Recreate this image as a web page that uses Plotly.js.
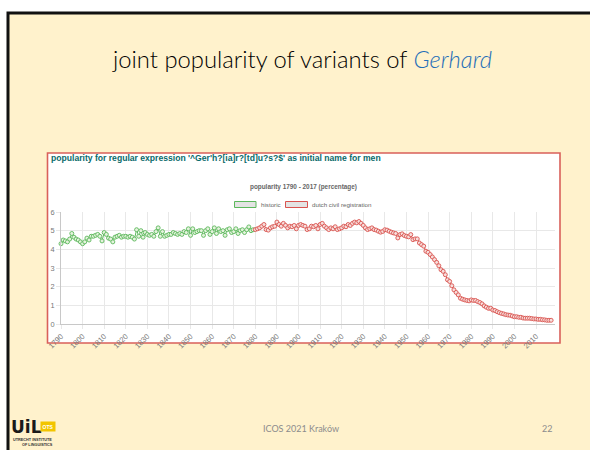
<!DOCTYPE html>
<html>
<head>
<meta charset="utf-8">
<script src="https://cdn.plot.ly/plotly-3.0.1.min.js"></script>
<style>
html,body{margin:0;padding:0;background:#fff;}
#chart{width:590px;height:450px;}
</style>
</head>
<body>
<div id="chart"></div>
<script>
// ---- data ----
const historicStart = 1790;
const historicValues = [
  4.30, 4.50, 4.45, 4.40, 4.55, 4.85, 4.65, 4.55, 4.50, 4.40,
  4.30, 4.40, 4.60, 4.50, 4.70, 4.70, 4.75, 4.80, 4.70, 4.45,
  4.90, 4.80, 4.60, 4.55, 4.40, 4.65, 4.70, 4.75, 4.65, 4.70,
  4.70, 4.65, 4.70, 4.65, 4.55, 5.05, 4.70, 5.00, 4.65, 4.90,
  4.80, 4.75, 4.80, 4.70, 4.95, 5.15, 4.70, 4.95, 4.70, 4.75,
  4.80, 4.80, 4.90, 4.85, 4.80, 4.85, 4.80, 4.95, 4.90, 5.10,
  4.75, 5.10, 4.90, 4.95, 5.00, 5.00, 4.75, 5.00, 5.10, 4.80,
  4.95, 5.15, 4.85, 5.10, 4.95, 5.00, 4.75, 5.05, 5.10, 4.90,
  4.95, 5.10, 4.85, 5.00, 5.05, 4.90, 5.05, 5.20, 5.00, 5.05
];
const civilStart = 1880;
const civilValues = [
  5.06, 5.10, 5.15, 5.24, 5.33, 5.06, 5.03, 5.15, 5.21, 5.24,
  5.46, 5.33, 5.24, 5.39, 5.28, 5.15, 5.24, 5.21, 5.28, 5.10,
  5.28, 5.33, 5.28, 5.24, 5.06, 5.10, 5.24, 5.21, 5.28, 5.10,
  5.33, 5.39, 5.24, 5.15, 5.06, 5.15, 5.10, 5.21, 5.06, 5.10,
  5.15, 5.24, 5.21, 5.33, 5.28, 5.39, 5.46, 5.42, 5.49, 5.39,
  5.28, 5.15, 5.06, 5.10, 5.15, 5.06, 5.03, 4.97, 4.92, 4.96,
  5.05, 5.03, 4.97, 4.92, 4.88, 4.85, 4.61, 4.79, 4.83, 4.74,
  4.70, 4.67, 4.79, 4.52, 4.56, 4.56, 4.34, 4.25, 4.17, 3.90,
  3.84, 3.72, 3.59, 3.45, 3.30, 3.12, 2.91, 2.82, 2.64, 2.37,
  2.28, 2.05, 1.83, 1.69, 1.56, 1.38, 1.33, 1.29, 1.26, 1.24,
  1.29, 1.26, 1.26, 1.20, 1.15, 1.08, 0.97, 0.90, 0.84, 0.84,
  0.75, 0.72, 0.66, 0.61, 0.57, 0.54, 0.50, 0.48, 0.47, 0.43,
  0.39, 0.39, 0.36, 0.36, 0.32, 0.31, 0.31, 0.31, 0.29, 0.27,
  0.27, 0.25, 0.25, 0.23, 0.22, 0.20, 0.20, 0.20
];
const xTickLabels = [1790,1800,1810,1820,1830,1840,1850,1860,1870,1880,1890,1900,1910,1920,1930,1940,1950,1960,1970,1980,1990,2000,2010];
const yTickLabels = [0,1,2,3,4,5,6];
const seriesNames = ["historic", "dutch civil registration"];

const historicYears = historicValues.map((_, i) => historicStart + i);
const civilYears = civilValues.map((_, i) => civilStart + i);

// ---- layout helpers (pixel -> paper) ----
const L = 61, R = 555, T = 212, B = 324;
const W = R - L, H = B - T;
const px = p => (p - L) / W;
const py = p => (B - p) / H;

const green = 'rgb(92,184,92)';
const red = 'rgb(217,83,79)';

const traces = [
  {
    x: historicYears, y: historicValues, name: seriesNames[0],
    type: 'scatter', mode: 'lines+markers', cliponaxis: false,
    line: {color: green, width: 1},
    marker: {size: 4, color: 'rgba(228,243,220,1)', line: {color: green, width: 0.9}}
  },
  {
    x: civilYears, y: civilValues, name: seriesNames[1],
    type: 'scatter', mode: 'lines+markers', cliponaxis: false,
    line: {color: red, width: 1},
    marker: {size: 4, color: 'rgba(247,222,220,1)', line: {color: red, width: 0.9}}
  }
];

const shapes = [
  // slide
  {type:'rect', xref:'paper', yref:'paper', layer:'below',
   x0: px(8), x1: px(600), y0: py(13), y1: py(470),
   fillcolor:'#FFF2CC', line:{color:'#111', width:3}},
  // chart box
  {type:'rect', xref:'paper', yref:'paper', layer:'below',
   x0: px(47.5), x1: px(560), y0: py(153), y1: py(343),
   fillcolor:'#ffffff', line:{color:'#d9605a', width:1.6}},
  // legend boxes
  {type:'rect', xref:'paper', yref:'paper',
   x0: px(234.5), x1: px(256), y0: py(201.5), y1: py(207.5),
   fillcolor:'#e3e3e3', line:{color: green, width:1}},
  {type:'rect', xref:'paper', yref:'paper',
   x0: px(285.5), x1: px(307.5), y0: py(201.5), y1: py(207.5),
   fillcolor:'#e3e3e3', line:{color: red, width:1}}
];

const ann = (text, x, y, opts) => Object.assign({
  text, xref:'paper', yref:'paper', x: px(x), y: py(y),
  showarrow:false, xanchor:'center', yanchor:'middle'
}, opts);

const annotations = [
  ann('joint popularity of variants of <i><span style="color:#1F6FB8">Gerhard</span></i>', 302, 59,
      {font:{family:'Lato, "Open Sans", sans-serif', size:23.8, weight:300, color:'#000000'}}),
  ann("<b>popularity for regular expression '^Ger'h?[ia]r?[td]u?s?$' as initial name for men</b>", 48.5, 157.5,
      {xanchor:'left', font:{family:'"Liberation Sans", Arial, sans-serif', size:8.6, color:'#0a6a6a'}}),
  ann('<b>popularity 1790 - 2017 (percentage)</b>', 303.5, 187,
      {font:{family:'"Liberation Sans", Arial, sans-serif', size:6.4, color:'#666'}}),
  ann(seriesNames[0], 259, 204.5,
      {xanchor:'left', font:{family:'"Liberation Sans", Arial, sans-serif', size:6.2, color:'#666'}}),
  ann(seriesNames[1], 310, 204.5,
      {xanchor:'left', font:{family:'"Liberation Sans", Arial, sans-serif', size:6.2, color:'#666'}}),
  ann('ICOS 2021 Kraków', 301, 428,
      {font:{family:'Lato, "Open Sans", sans-serif', size:9, color:'#8c8c8c'}}),
  ann('22', 547, 428,
      {font:{family:'Lato, "Open Sans", sans-serif', size:9, color:'#8c8c8c'}}),
  // logo
  ann('<b>UiL</b>', 26, 427,
      {font:{family:'"DejaVu Sans", sans-serif', size:17, color:'#1a1a1a'}}),
  ann('<b>OTS</b>', 48, 426,
      {bgcolor:'#F2C500', borderpad:1.5, font:{family:'"Liberation Sans", Arial, sans-serif', size:5, color:'#fff'}}),
  ann('<b>UTRECHT INSTITUTE</b>', 32, 439.5,
      {font:{family:'"Liberation Sans", Arial, sans-serif', size:3.8, color:'#333'}}),
  ann('<b>OF LINGUISTICS</b>', 37, 444.5,
      {font:{family:'"Liberation Sans", Arial, sans-serif', size:3.8, color:'#333'}})
];

const layout = {
  width: 590, height: 450,
  margin: {l: L, r: 590 - R, t: T, b: 450 - B, pad: 0},
  paper_bgcolor: '#ffffff',
  plot_bgcolor: '#ffffff',
  showlegend: false,
  font: {family: '"Liberation Sans", Arial, sans-serif', color: '#666'},
  xaxis: {
    range: [1790, 2018.8], tickmode: 'array', tickvals: xTickLabels, ticktext: xTickLabels.map(String),
    tickangle: -45, tickfont: {size: 7.6, color: '#777'},
    showgrid: true, gridcolor: '#e8e8e8', gridwidth: 1, zeroline: false,
    showline: true, linecolor: '#c8c8c8', linewidth: 1,
    ticks: 'outside', ticklen: 4, tickcolor: '#e8e8e8'
  },
  yaxis: {
    range: [0, 6], tickmode: 'array', tickvals: yTickLabels, ticktext: yTickLabels.map(String),
    tickfont: {size: 7.4, color: '#777'},
    showgrid: true, gridcolor: '#e8e8e8', gridwidth: 1, zeroline: false,
    showline: true, linecolor: '#c8c8c8', linewidth: 1,
    ticks: 'outside', ticklen: 4, tickcolor: '#e8e8e8'
  },
  shapes, annotations
};

Plotly.newPlot('chart', traces, layout, {displayModeBar: false, staticPlot: true});
</script>
</body>
</html>
